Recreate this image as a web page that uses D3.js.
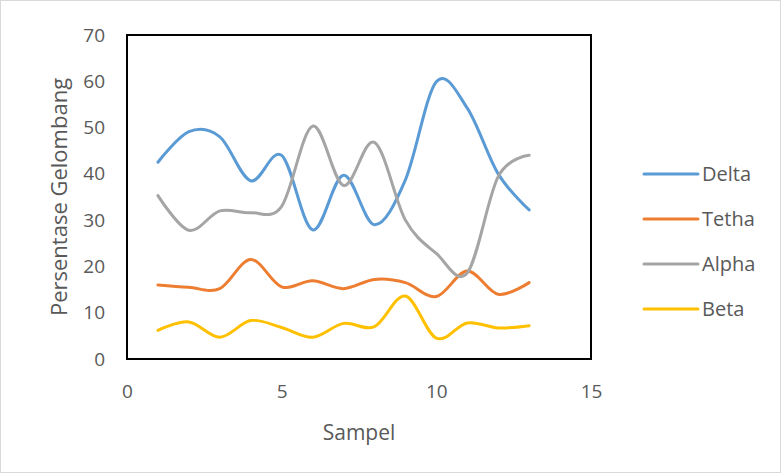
<!DOCTYPE html>
<html>
<head>
<meta charset="utf-8">
<script src="https://cdn.jsdelivr.net/npm/d3@7"></script>
<style>
  body { margin: 0; background: #fff; }
  text { font-family: "Open Sans", "Liberation Sans", sans-serif; fill: #595959; }
</style>
</head>
<body>
<svg width="781" height="473"></svg>
<script>
var samples = [1, 2, 3, 4, 5, 6, 7, 8, 9, 10, 11, 12, 13];
var delta = [42.5, 49.1, 48, 38.5, 44, 27.9, 39.7, 29, 38.7, 59.9, 54.2, 40, 32.2];
var tetha = [16, 15.5, 15.2, 21.5, 15.6, 16.9, 15.2, 17.2, 16.5, 13.5, 19, 14, 16.5];
var alpha = [35.3, 27.8, 32, 31.6, 33, 50.3, 37.5, 46.8, 30, 22.8, 18.6, 39.4, 44];
var beta = [6.2, 8, 4.7, 8.3, 6.8, 4.7, 7.7, 7, 13.6, 4.5, 7.8, 6.7, 7.2];
var xTicks = [0, 5, 10, 15];
var yTicks = [0, 10, 20, 30, 40, 50, 60, 70];

var series = [
  { name: "Delta", values: delta, color: "#5b9bd5" },
  { name: "Tetha", values: tetha, color: "#ed7d31" },
  { name: "Alpha", values: alpha, color: "#a5a5a5" },
  { name: "Beta", values: beta, color: "#ffc000" }
];

var svg = d3.select("svg");
var margin = { top: 35, left: 127, right: 190, bottom: 114 };
var width = +svg.attr("width") - margin.left - margin.right;
var height = +svg.attr("height") - margin.top - margin.bottom;

// chart area border
svg.append("rect")
  .attr("x", 0.5).attr("y", 0.5)
  .attr("width", 780).attr("height", 472)
  .attr("fill", "none").attr("stroke", "#d9d9d9");

var g = svg.append("g")
  .attr("transform", "translate(" + margin.left + "," + margin.top + ")");

var x = d3.scaleLinear().domain([0, 15]).range([0, width]);
var y = d3.scaleLinear().domain([0, 70]).range([height, 0]);

g.append("g")
  .attr("transform", "translate(0," + height + ")")
  .call(d3.axisBottom(x).tickValues(xTicks).tickSize(0).tickPadding(26))
  .call(function (a) { a.select(".domain").remove(); })
  .selectAll("text").style("font-size", "19px").attr("fill", "#595959");

g.append("g")
  .call(d3.axisLeft(y).tickValues(yTicks).tickSize(0).tickPadding(22))
  .call(function (a) { a.select(".domain").remove(); })
  .selectAll("text").style("font-size", "19px").attr("fill", "#595959");

var line = d3.line()
  .x(function (d, i) { return x(samples[i]); })
  .y(function (d) { return y(d); })
  .curve(d3.curveCardinal.tension(0));

g.selectAll(".series")
  .data(series)
  .enter().append("path")
  .attr("class", "series")
  .attr("fill", "none")
  .attr("stroke", function (d) { return d.color; })
  .attr("stroke-width", 3)
  .attr("stroke-linecap", "round")
  .attr("d", function (d) { return line(d.values); });

// plot frame
g.append("rect")
  .attr("width", width).attr("height", height)
  .attr("fill", "none").attr("stroke", "#000").attr("stroke-width", 2);

svg.append("text")
  .attr("x", margin.left + width / 2).attr("y", 440)
  .attr("text-anchor", "middle")
  .style("font-size", "21px")
  .text("Sampel");

svg.append("text")
  .attr("transform", "translate(67," + (margin.top + height / 2) + ") rotate(-90)")
  .attr("text-anchor", "middle")
  .style("font-size", "22px")
  .text("Persentase Gelombang");

var legend = svg.append("g").selectAll("g")
  .data(series)
  .enter().append("g")
  .attr("transform", function (d, i) { return "translate(644," + (174 + i * 45) + ")"; });

legend.append("line")
  .attr("x1", 0).attr("x2", 54)
  .attr("stroke", function (d) { return d.color; })
  .attr("stroke-width", 3)
  .attr("stroke-linecap", "round");

legend.append("text")
  .attr("x", 58).attr("dy", "0.35em")
  .style("font-size", "20px")
  .text(function (d) { return d.name; });
</script>
</body>
</html>
